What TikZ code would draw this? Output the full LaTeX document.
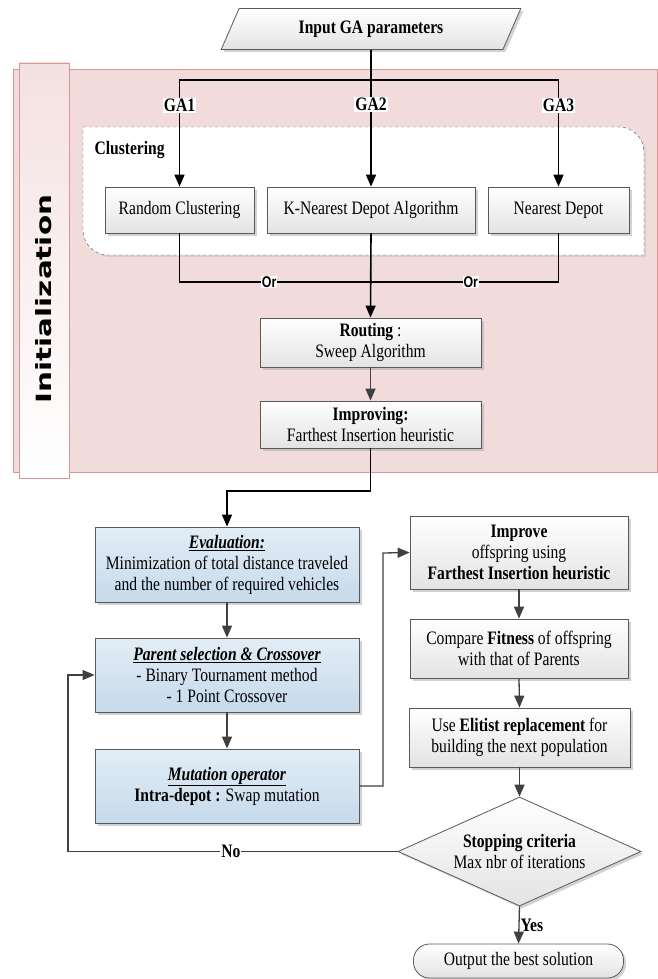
\documentclass[tikz,border=0pt]{standalone}
\usepackage{fontspec}
\setmainfont{Liberation Serif}[FakeStretch=0.82]
\newfontfamily\initfont{DejaVu Sans}[FakeStretch=1.4]
\newfontfamily\orfont{Liberation Sans}[FakeStretch=0.8]
\usetikzlibrary{shapes.geometric,shadows,arrows.meta}

\definecolor{initpink}{HTML}{F2DCDB}
\definecolor{initedge}{HTML}{D99694}
\definecolor{boxline}{HTML}{595959}
\definecolor{boxgray}{HTML}{E3E3E3}
\definecolor{bluetop}{HTML}{E2EDF6}
\definecolor{bluebot}{HTML}{C6DAEB}
\definecolor{flowgray}{HTML}{404040}

\begin{document}
\begin{tikzpicture}[x=1pt, y=-1pt,
    font=\fontsize{19}{21}\selectfont,
    >={Triangle[length=12pt, width=10pt]},
    box/.style={draw=boxline, line width=0.8pt, top color=white, bottom color=boxgray,
      drop shadow={shadow xshift=2.5pt, shadow yshift=-2.5pt, fill=black!35, opacity=0.5},
      align=center, inner sep=2pt},
    bluebox/.style={box, top color=bluetop, bottom color=bluebot},
    initline/.style={line width=1.6pt, black},
    flowline/.style={line width=1.3pt, flowgray},
    tag/.style={fill=white, text=black, inner sep=1pt, font=\fontsize{19}{21}\selectfont\bfseries},
    ortag/.style={fill=white, text=black, inner sep=1pt, font=\orfont\fontsize{15.5}{16}\selectfont\bfseries}
  ]
    \useasboundingbox (0,0) rectangle (658,979);

    % Initialization area
    \fill[initpink, draw=initedge, line width=0.8pt] (13,69) rectangle (657,472);
    \shade[top color=initpink!85, bottom color=white, draw=initedge, line width=0.8pt]
      (19,63) rectangle (69,478);
    \node[rotate=90, font=\initfont\fontsize{21}{24}\selectfont\bfseries] (initlabel)
      at (44,299) {Initialization};

    % Clustering frame
    \draw[dashed, draw=black!70, fill=white,
      drop shadow={shadow xshift=2pt, shadow yshift=-2pt, fill=black!25, opacity=0.5}]
      (83,127) -- (619,127) arc[start angle=90, end angle=0, radius=25pt]
        -- (644,255) -- (108,255) arc[start angle=270, end angle=180, radius=25pt] -- cycle;
    \node[anchor=west, font=\fontsize{19}{21}\selectfont\bfseries] (clustering)
      at (91,150) {Clustering};

    % Input
    \node[box, trapezium, trapezium left angle=64, trapezium right angle=116,
      trapezium stretches=true, minimum width=300pt, minimum height=41pt,
      font=\fontsize{19}{21}\selectfont\bfseries]
      (input) at (371,29) {Input GA parameters};

    % Clustering methods
    \node[box, minimum width=149pt, minimum height=46pt] (randclus) at (179.5,210) {Random Clustering};
    \node[box, minimum width=208pt, minimum height=46pt] (knearest) at (371,210) {K-Nearest Depot Algorithm};
    \node[box, minimum width=141pt, minimum height=46pt] (nearest) at (558.5,210) {Nearest Depot};

    % Routing and improving
    \node[box, minimum width=221pt, minimum height=49pt] (routing) at (370.5,342.5)
      {\textbf{Routing} :\\Sweep Algorithm};
    \node[box, minimum width=221pt, minimum height=47pt] (improving) at (370.5,424.5)
      {\textbf{Improving:}\\Farthest Insertion heuristic};

    % GA loop (left)
    \node[bluebox, minimum width=264pt, minimum height=75pt] (evaluation) at (227,564.5)
      {\underline{\textbf{\textit{Evaluation:}}}\\Minimization of total distance traveled\\and the number of required vehicles};
    \node[bluebox, minimum width=264pt, minimum height=74pt] (parentsel) at (227,675)
      {\underline{\textbf{\textit{Parent selection \& Crossover}}}\\- Binary Tournament method\\- 1 Point Crossover};
    \node[bluebox, minimum width=264pt, minimum height=74pt] (mutation) at (227,786)
      {\underline{\textbf{\textit{Mutation operator}}}\\\textbf{Intra-depot :} Swap mutation};

    % GA loop (right)
    \node[box, minimum width=218pt, minimum height=73pt] (improve) at (519,552.5)
      {\textbf{Improve}\\offspring using\\\textbf{Farthest Insertion heuristic}};
    \node[box, minimum width=218pt, minimum height=59pt] (compare) at (519,648.5)
      {Compare \textbf{Fitness} of offspring\\with that of Parents};
    \node[box, minimum width=221pt, minimum height=59pt] (elitist) at (519.5,737.5)
      {Use \textbf{Elitist replacement} for\\building the next population};
    \node[box, diamond, aspect=2.23, inner sep=0pt, minimum width=243pt, minimum height=109pt]
      (stopping) at (519.5,851.5) {\textbf{Stopping criteria}\\Max nbr of iterations};
    \node[box, rounded corners=16pt, minimum width=210pt, minimum height=34pt] (output)
      at (518.5,961) {Output the best solution};

    % Branch and merge points
    \coordinate (split) at (371,80);
    \coordinate (merge) at (371,282);
    \coordinate (turn) at (227,491);
    \coordinate (loopup) at (383,553);
    \coordinate (noturn) at (68,851.5);

    % Initialization connectors
    \draw[initline] (input.south) -- (split);
    \draw[initline, ->] (split) -| (randclus.north) node[tag, pos=0.62] {GA1};
    \draw[initline, ->] (split) -- (knearest.north) node[tag, pos=0.23] {GA2};
    \draw[initline, ->] (split) -| (nearest.north) node[tag, pos=0.62] {GA3};
    \draw[initline] (randclus.south) |- (merge) node[ortag, pos=0.734] {Or};
    \draw[initline] (nearest.south) |- (merge) node[ortag, pos=0.734] {Or};
    \draw[initline, ->] (knearest.south) -- (routing.north);
    \draw[flowline, ->] (routing.south) -- (improving.north);
    \draw[initline, ->] (improving.south) |- (turn) -- (evaluation.north);

    % GA connectors
    \draw[flowline, ->] (evaluation.south) -- (parentsel.north);
    \draw[flowline, ->] (parentsel.south) -- (mutation.north);
    \draw[flowline, ->] (mutation.east) -| (loopup) -- (improve.west);
    \draw[flowline, ->] (improve.south) -- (compare.north);
    \draw[flowline, ->] (compare.south) -- (elitist.north);
    \draw[flowline, ->] (elitist.south) -- (stopping.north);
    \draw[flowline, ->] (stopping.west) -- (noturn) node[tag, pos=0.506] {No} |- (parentsel.west);
    \draw[flowline, ->] (stopping.south) -- (output.north) node[tag, fill=none, right, midway] {Yes};
\end{tikzpicture}
\end{document}
